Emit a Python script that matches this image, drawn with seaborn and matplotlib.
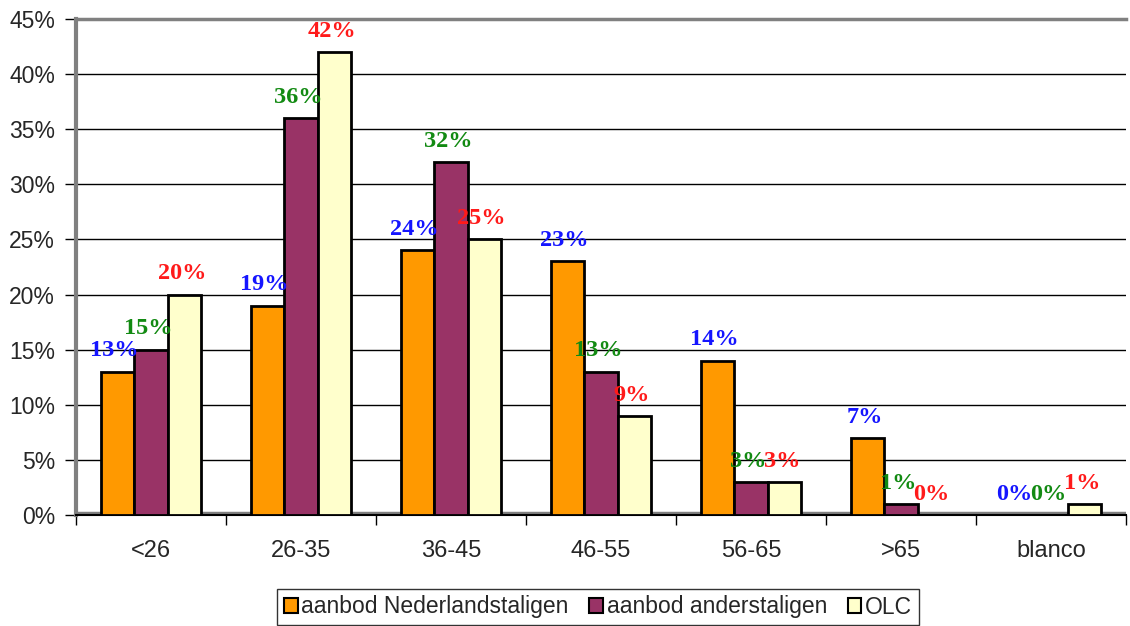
import matplotlib
matplotlib.use("Agg")
import matplotlib.pyplot as plt
import seaborn as sns
import pandas as pd

categories = ["<26", "26-35", "36-45", "46-55", "56-65", ">65", "blanco"]
series_names = ["aanbod Nederlandstaligen", "aanbod anderstaligen", "OLC"]
nederlandstaligen = [13, 19, 24, 23, 14, 7, 0]
anderstaligen = [15, 36, 32, 13, 3, 1, 0]
olc = [20, 42, 25, 9, 3, 0, 1]
y_ticks = [0, 5, 10, 15, 20, 25, 30, 35, 40, 45]

bar_colors = ["#FF9900", "#993366", "#FFFFCC"]
label_colors = ["#1515FF", "#128A12", "#FF1A1A"]

rows = []
for name, vals in zip(series_names, [nederlandstaligen, anderstaligen, olc]):
    for c, v in zip(categories, vals):
        rows.append({"cat": c, "val": v, "series": name})
df = pd.DataFrame(rows)

sns.set_style("white")
plt.rcParams["font.family"] = ["Liberation Sans", "DejaVu Sans"]

fig = plt.figure(figsize=(11.3, 6.26), dpi=100)
ax = fig.add_axes([76 / 1130, 1 - 515 / 626, 1050 / 1130, (515 - 19) / 626])

sns.barplot(data=df, x="cat", y="val", hue="series", order=categories,
            hue_order=series_names, palette=bar_colors, edgecolor="black",
            linewidth=2, width=0.67, gap=0, ax=ax, saturation=1, zorder=3)

ax.set_xlim(-0.5, 6.5)
ax.set_ylim(0, 45)
ax.set_yticks(y_ticks)
ax.set_yticklabels([f"{t}%" for t in y_ticks], fontsize=16.5)
ax.yaxis.grid(True, color="black", linewidth=1, zorder=0)
ax.set_axisbelow(True)
ax.tick_params(axis="y", length=8, width=1, color="black", pad=7, direction="out", left=True)

ax.set_xticks(range(len(categories)))
ax.set_xticklabels(categories, fontsize=17)
ax.set_xticks([i - 0.5 for i in range(len(categories) + 1)], minor=True)
ax.tick_params(axis="x", which="major", length=0, pad=18)
ax.tick_params(axis="x", which="minor", length=7, width=1, color="black", direction="out", bottom=True)
ax.set_xlabel("")
ax.set_ylabel("")

for side in ["left", "top"]:
    ax.spines[side].set_color("#808080")
ax.spines["left"].set_linewidth(3)
ax.spines["top"].set_linewidth(2.5)
ax.spines["right"].set_visible(False)
ax.spines["bottom"].set_color("black")
ax.spines["bottom"].set_linewidth(1.5)
ax.axhline(0.15, color="#808080", linewidth=2.5, zorder=2)

for cont, col in zip(ax.containers, label_colors):
    for p in cont.patches:
        h = p.get_height()
        ax.annotate(f"{h:.0f}%", (p.get_x() + p.get_width() / 2, h),
                    xytext=(-2, 11), textcoords="offset points",
                    ha="center", va="baseline", color=col,
                    fontsize=17.5, fontweight="bold",
                    family=["Liberation Serif", "DejaVu Serif"], zorder=5,
                    annotation_clip=False)

ax.legend_.remove()
handles = [plt.Rectangle((0, 0), 1, 1, facecolor=c, edgecolor="black", linewidth=1.5) for c in bar_colors]
leg = fig.legend(handles, series_names, loc="center", bbox_to_anchor=(598 / 1130, 1 - 607 / 626),
                 ncol=3, fontsize=16.5, frameon=True, fancybox=False, edgecolor="black",
                 handlelength=0.6, handleheight=0.6, handletextpad=0.15, columnspacing=0.9,
                 borderpad=0.3, borderaxespad=0)
leg.get_frame().set_linewidth(1)

fig.savefig("out.png", dpi=100)
